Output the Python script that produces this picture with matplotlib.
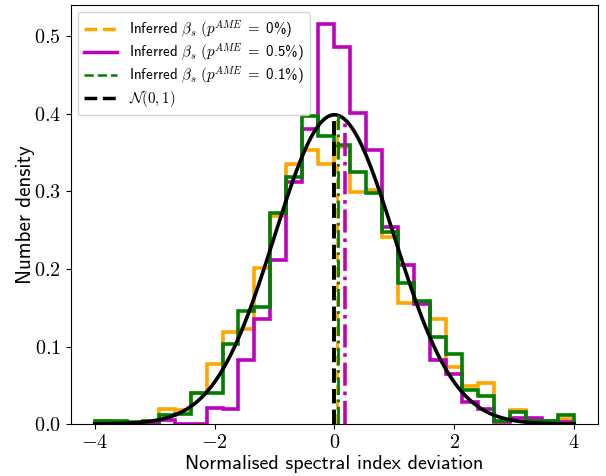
import numpy as np
import matplotlib
matplotlib.use("Agg")
import matplotlib.pyplot as plt
from matplotlib.lines import Line2D
from matplotlib.ticker import FuncFormatter

plt.rcParams['mathtext.fontset'] = 'cm'
plt.rcParams['font.family'] = ['cmss10', 'DejaVu Sans']
plt.rcParams['axes.unicode_minus'] = True

# ---- data -------------------------------------------------------------
bin_lo, bin_hi, n_bins = -4.0, 4.0, 30

dens_p0 = [0.004, 0.0, 0.0, 0.002, 0.0195, 0.0175, 0.040, 0.077, 0.119, 0.1226,
           0.2017, 0.268, 0.335, 0.354, 0.335, 0.358, 0.2995, 0.302, 0.2417, 0.156,
           0.156, 0.136, 0.074, 0.049, 0.0535, 0.004, 0.018, 0.004, 0.003, 0.0065]
dens_p05 = [0.0, 0.0, 0.0, 0.0, 0.005, 0.0, 0.0, 0.021, 0.020, 0.083,
            0.135, 0.2116, 0.312, 0.381, 0.516, 0.486, 0.401, 0.354, 0.2546, 0.205,
            0.155, 0.0826, 0.0645, 0.0288, 0.020, 0.003, 0.008, 0.0077, 0.004, 0.002]
dens_p01 = [0.004, 0.004, 0.002, 0.004, 0.011, 0.0135, 0.040, 0.040, 0.103, 0.146,
            0.151, 0.272, 0.319, 0.397, 0.371, 0.360, 0.325, 0.2985, 0.248, 0.182,
            0.159, 0.1127, 0.090, 0.0443, 0.036, 0.004, 0.015, 0.004, 0.004, 0.0116]

mean_p0, mean_p05, mean_p01 = 0.04, 0.17, 0.067
ref_mu, ref_sigma = 0.0, 1.0

labels = [r'Inferred $\beta_s\ (p^{AME}\;=\;$0%)',
          r'Inferred $\beta_s\ (p^{AME}\;=\;$0.5%)',
          r'Inferred $\beta_s\ (p^{AME}\;=\;$0.1%)',
          r'$\mathcal{N}(0,1)$']

c_or, c_mg, c_gr = 'orange', 'm', 'green'

# ---- plot -------------------------------------------------------------
fig = plt.figure(figsize=(6.06, 4.76), dpi=100)
ax = fig.add_axes([0.1167, 0.1092, 0.8701, 0.8803])

edges = np.linspace(bin_lo, bin_hi, n_bins + 1)
ax.stairs(dens_p0, edges, color=c_or, lw=2.6)
ax.stairs(dens_p05, edges, color=c_mg, lw=2.6)
ax.stairs(dens_p01, edges, color=c_gr, lw=2.6)

def npdf(x):
    return np.exp(-0.5 * ((x - ref_mu) / ref_sigma) ** 2) / (ref_sigma * np.sqrt(2 * np.pi))

xg = np.linspace(bin_lo, bin_hi, 400)
ax.plot(xg, npdf(xg), color='k', lw=2.6)

ax.plot([ref_mu, ref_mu], [0, npdf(ref_mu)], color='k', ls='--', lw=2.8)
ax.plot([mean_p0, mean_p0], [0, npdf(mean_p0)], color=c_or, ls='--', lw=2.0)
ax.plot([mean_p01, mean_p01], [0, npdf(mean_p01)], color=c_gr, ls='-.', lw=2.0)
ax.plot([mean_p05, mean_p05], [0, npdf(mean_p05)], color=c_mg, ls='-.', lw=2.6)

ax.set_xlim(-4.4, 4.4)
ax.set_ylim(0, 0.5406)
ax.set_xticks([-4, -2, 0, 2, 4])
ax.set_yticks([0.0, 0.1, 0.2, 0.3, 0.4, 0.5])
ax.xaxis.set_major_formatter(FuncFormatter(lambda v, p: '$%d$' % round(v)))
ax.yaxis.set_major_formatter(FuncFormatter(lambda v, p: '$%.1f$' % v))
ax.tick_params(labelsize=14.5)

ax.set_xlabel('Normalised spectral index deviation', fontsize=14.5, labelpad=2)
ax.set_ylabel('Number density', fontsize=15.2, labelpad=-1)

handles = [Line2D([], [], color=c_or, ls='--', lw=2.5),
           Line2D([], [], color=c_mg, ls='-', lw=2.5),
           Line2D([], [], color=c_gr, ls='--', lw=1.8),
           Line2D([], [], color='k', ls='--', lw=2.5)]
ax.legend(handles, labels, loc='upper left', fontsize=10.8, labelspacing=0.08,
          borderaxespad=0.5, handlelength=2.2)

fig.savefig('out.png', dpi=100)
